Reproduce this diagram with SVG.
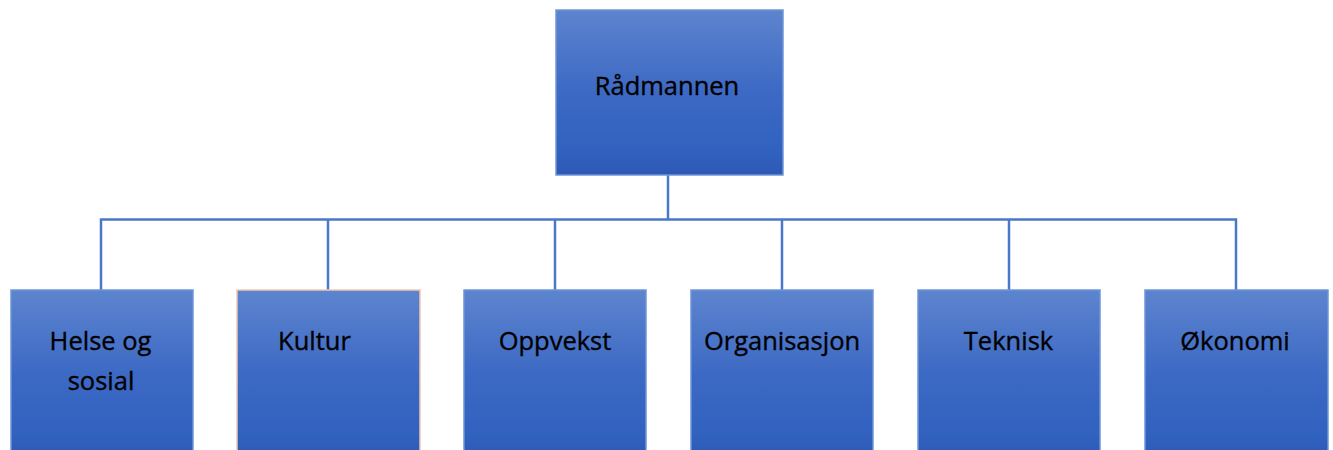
<svg xmlns="http://www.w3.org/2000/svg" width="1333" height="450" viewBox="0 0 1333 450">
<style>
.box{fill:url(#g);stroke:#6f95d8;stroke-width:1.5}
.lbl{font-family:"Open Sans","Liberation Sans",sans-serif;font-size:25.5px;fill:#000;stroke:#000;stroke-width:0.35;text-anchor:middle}
.con{fill:none;stroke:#4a78c8;stroke-width:2.5}
</style>
<defs>
<linearGradient id="g" x1="0" y1="0" x2="0" y2="1">
<stop offset="0" stop-color="#5d84ce"/>
<stop offset="0.5" stop-color="#3c69c4"/>
<stop offset="0.85" stop-color="#3162bf"/>
<stop offset="1" stop-color="#2d59b4"/>
</linearGradient>
</defs>
<rect width="1333" height="450" fill="#fff"/>
<g id="connectors">
<path class="con" d="M668,175 V219.5"/>
<path class="con" d="M101,290 V219.5 H1236 V290"/>
<path class="con" d="M328,219.5 V290 M555,219.5 V290 M782,219.5 V290 M1009,219.5 V290"/>
</g>
<g id="radmannen"><rect class="box" x="556" y="10" width="227" height="165"/><text class="lbl" x="667" y="95">Rådmannen</text></g>
<g id="helse"><rect class="box" x="11" y="290" width="182" height="170"/><text class="lbl" x="100.5" y="350">Helse og</text><text class="lbl" x="101" y="390">sosial</text></g>
<g id="kultur"><rect class="box" x="237" y="290" width="183" height="170" style="stroke:#f0c8b0"/><text class="lbl" x="314.5" y="350">Kultur</text></g>
<g id="oppvekst"><rect class="box" x="464" y="290" width="182" height="170"/><text class="lbl" x="555" y="350">Oppvekst</text></g>
<g id="organisasjon"><rect class="box" x="691" y="290" width="182" height="170"/><text class="lbl" x="782" y="350">Organisasjon</text></g>
<g id="teknisk"><rect class="box" x="918" y="290" width="182" height="170"/><text class="lbl" x="1008.5" y="350">Teknisk</text></g>
<g id="okonomi"><rect class="box" x="1145" y="290" width="183" height="170"/><text class="lbl" x="1235" y="350">Økonomi</text></g>
</svg>
